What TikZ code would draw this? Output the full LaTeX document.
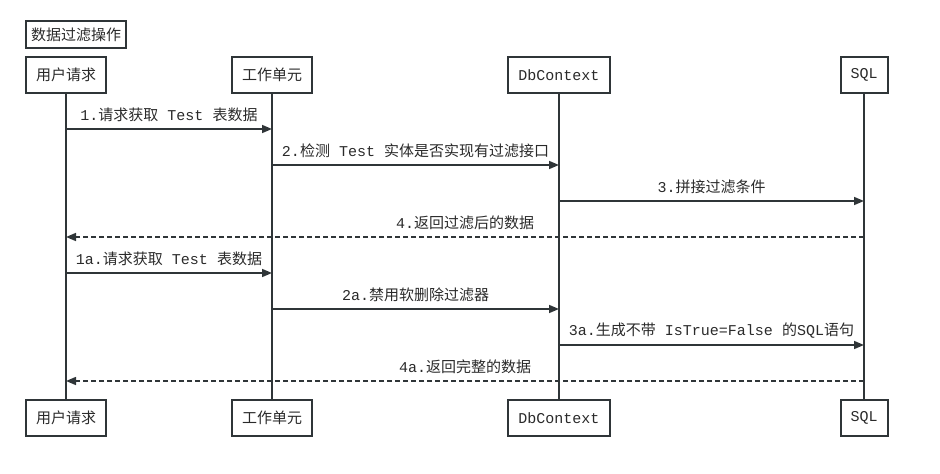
\documentclass[tikz,border=0pt]{standalone}
\usepackage{fontspec}
\setmainfont{Liberation Mono}
\newfontfamily\cjk{Noto Sans CJK SC}
\usetikzlibrary{arrows.meta}
\definecolor{ln}{HTML}{2F3538}
\definecolor{tx}{HTML}{2A2A2A}
\begin{document}
\begin{tikzpicture}[x=1pt,y=-1pt,
  every node/.style={font=\fontsize{15pt}{18pt}\selectfont, text=tx},
  actor/.style={draw=ln, line width=2pt, fill=white, minimum height=36pt, inner xsep=10pt, inner ysep=0pt},
  titlebox/.style={draw=ln, line width=2pt, minimum height=27pt, inner xsep=5pt, inner ysep=0pt, anchor=north west},
  life/.style={draw=ln, line width=1.5pt},
  msg/.style={draw=ln, line width=1.5pt, -{Triangle[length=10pt,width=8pt]}},
  ret/.style={msg, dash pattern=on 5pt off 3pt},
  lbl/.style={midway, yshift=14pt, inner sep=0pt}]
\useasboundingbox (0,0) rectangle (940,474);
\node[titlebox] (title) at (25,20) {\cjk 数据过滤操作};
% top participants
\node[actor] (pu) at (66,75) {\cjk 用户请求};
\node[actor] (pw) at (272,75) {\cjk 工作单元};
\node[actor] (pd) at (559,75) {DbContext};
\node[actor] (ps) at (864,75) {SQL};
% bottom participants
\node[actor] (bu) at (66,418) {\cjk 用户请求};
\node[actor] (bw) at (272,418) {\cjk 工作单元};
\node[actor] (bd) at (559,418) {DbContext};
\node[actor] (bs) at (864,418) {SQL};
% lifelines
\draw[life] (pu) -- (bu);
\draw[life] (pw) -- (bw);
\draw[life] (pd) -- (bd);
\draw[life] (ps) -- (bs);
% message anchor points
\coordinate (u1) at (66,129);    \coordinate (w1) at (272,129);
\coordinate (w2) at (272,165);   \coordinate (d2) at (559,165);
\coordinate (d3) at (559,201);   \coordinate (s3) at (864,201);
\coordinate (s4) at (864,237);   \coordinate (u4) at (66,237);
\coordinate (u5) at (66,273);    \coordinate (w5) at (272,273);
\coordinate (w6) at (272,309);   \coordinate (d6) at (559,309);
\coordinate (d7) at (559,345);   \coordinate (s7) at (864,345);
\coordinate (s8) at (864,381);   \coordinate (u8) at (66,381);
% messages
\draw[msg] (u1) -- node[lbl] (l1) {1.{\cjk 请求获取} Test {\cjk 表数据}} (w1);
\draw[msg] (w2) -- node[lbl] (l2) {2.{\cjk 检测} Test {\cjk 实体是否实现有过滤接口}} (d2);
\draw[msg] (d3) -- node[lbl] (l3) {3.{\cjk 拼接过滤条件}} (s3);
\draw[ret] (s4) -- node[lbl] (l4) {4.{\cjk 返回过滤后的数据}} (u4);
\draw[msg] (u5) -- node[lbl] (l5) {1a.{\cjk 请求获取} Test {\cjk 表数据}} (w5);
\draw[msg] (w6) -- node[lbl] (l6) {2a.{\cjk 禁用软删除过滤器}} (d6);
\draw[msg] (d7) -- node[lbl] (l7) {3a.{\cjk 生成不带} IsTrue=False {\cjk 的}SQL{\cjk 语句}} (s7);
\draw[ret] (s8) -- node[lbl] (l8) {4a.{\cjk 返回完整的数据}} (u8);
\end{tikzpicture}
\end{document}
